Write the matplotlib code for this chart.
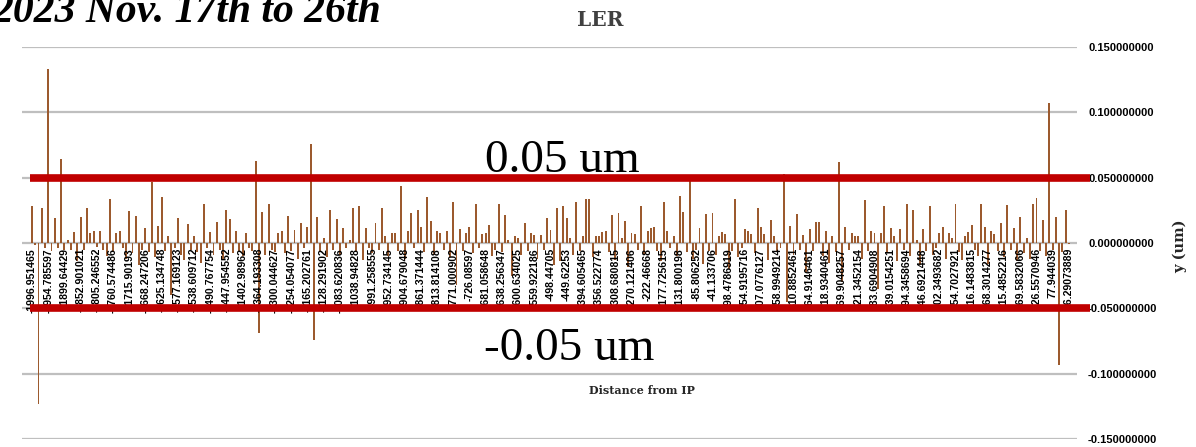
import matplotlib
matplotlib.use("Agg")
import matplotlib.pyplot as plt
import numpy as np
from matplotlib.ticker import FormatStrFormatter
import matplotlib.transforms as mtransforms

# Vertical orbit offset per BPM (um), ordered along the ring
dy_um = [
    0.0286, -0.0015, -0.123, 0.027, -0.004,
    0.133, -0.006, 0.019, -0.004, 0.064,
    -0.005, 0.002, -0.005, 0.0087, -0.014,
    0.020, -0.005, 0.0265, 0.0074, 0.009,
    -0.003, 0.009, -0.005, -0.010, 0.034,
    -0.006, 0.0074, 0.0094, -0.004, -0.012,
    0.0245, -0.008, 0.0207, -0.017, -0.005,
    0.0117, -0.007, 0.047, -0.011, 0.013,
    0.035, -0.006, 0.0056, -0.040, -0.004,
    0.0189, -0.009, -0.013, 0.0143, -0.005,
    0.0056, -0.007, -0.015, 0.0296, -0.004,
    0.0087, -0.009, 0.0163, -0.005, -0.012,
    0.025, 0.018, -0.008, 0.009, -0.007,
    -0.010, 0.0074, -0.004, -0.006, 0.063,
    -0.069, 0.024, -0.009, 0.030, -0.005,
    -0.007, 0.008, 0.009, -0.008, 0.021,
    -0.006, 0.010, -0.012, 0.015, -0.004,
    0.012, 0.076, -0.074, 0.020, -0.007,
    0.0036, -0.011, 0.025, -0.005, 0.018,
    -0.009, 0.0117, -0.004, 0.002, 0.027,
    -0.006, 0.028, -0.013, 0.0117, -0.004,
    -0.008, 0.015, -0.005, 0.027, 0.005,
    -0.010, 0.008, 0.008, -0.006, 0.044,
    -0.012, 0.009, 0.0227, -0.004, 0.025,
    0.012, -0.007, 0.035, 0.0168, -0.009,
    0.009, 0.008, -0.005, 0.0094, -0.011,
    0.0316, -0.032, 0.0107, -0.006, 0.0074,
    0.0125, -0.008, 0.0296, -0.004, 0.0066,
    0.0074, 0.014, -0.010, -0.005, 0.030,
    -0.007, 0.0214, 0.002, -0.025, 0.0056,
    0.004, -0.009, 0.015, -0.006, 0.0074,
    0.006, -0.012, 0.006, -0.005, 0.019,
    0.010, -0.017, 0.0265, -0.014, 0.028,
    0.019, 0.0036, -0.009, 0.0316, -0.006,
    0.005, 0.0334, 0.0334, -0.011, 0.005,
    0.005, 0.0087, 0.009, -0.007, 0.0214,
    -0.013, 0.0227, 0.004, 0.0168, -0.018,
    0.0074, 0.0066, -0.005, 0.0286, -0.009,
    0.009, 0.0117, 0.0125, -0.006, -0.014,
    0.0316, 0.009, -0.004, 0.005, -0.010,
    0.036, 0.024, -0.007, 0.049, -0.012,
    -0.005, 0.0117, -0.016, 0.022, -0.006,
    0.0227, -0.009, 0.005, 0.0087, 0.0066,
    -0.020, -0.006, 0.0334, -0.011, -0.004,
    0.0107, 0.009, 0.0066, -0.008, 0.027,
    0.0125, 0.0066, -0.013, 0.0176, 0.0056,
    -0.007, -0.004, 0.053, -0.045, 0.013,
    -0.009, 0.022, -0.005, 0.006, -0.022,
    0.011, -0.006, 0.0163, 0.0163, -0.010,
    0.009, -0.015, 0.005, -0.007, 0.062,
    -0.030, 0.0125, -0.005, 0.008, 0.005,
    0.005, -0.012, 0.033, -0.006, 0.0094,
    0.008, -0.035, 0.008, 0.0286, -0.008,
    0.0117, 0.0056, -0.014, 0.011, -0.005,
    0.0296, -0.010, 0.025, 0.002, -0.017,
    0.011, -0.006, 0.028, -0.009, -0.004,
    0.0074, 0.0125, -0.012, 0.0074, 0.0036,
    0.0296, -0.007, -0.013, 0.005, 0.0087,
    0.0138, -0.005, -0.010, 0.0296, 0.0125,
    -0.016, 0.009, 0.0066, -0.006, 0.015,
    -0.011, 0.029, -0.005, 0.0117, -0.014,
    0.020, -0.008, 0.0036, -0.012, 0.0296,
    0.0347, -0.006, 0.0176, -0.010, 0.107,
    -0.005, 0.020, -0.093, -0.007, 0.025,
    -0.001,
]

# Distance from IP (m), shown for every fifth BPM
distance_labels = [
    "-1996.951465", "-1954.785597", "-1899.64429", "-1852.901021", "-1805.246552",
    "-1760.574486", "-1715.90193", "-1668.247206", "-1625.134748", "-1577.169123",
    "-1538.609712", "-1490.767754", "-1447.954552", "-1402.98962", "-1364.193308",
    "-1300.044627", "-1254.054077", "-1165.202761", "-1128.291902", "-1083.620836",
    "-1038.94828", "-991.258555", "-952.734145", "-904.679048", "-861.371444",
    "-813.814108", "-771.000902", "-726.08597", "-681.058648", "-638.256347",
    "-600.634025", "-559.922186", "-498.44705", "-449.62253", "-394.605465",
    "-356.522774", "-308.680815", "-270.121406", "-222.46668", "-177.725615",
    "-131.800198", "-85.806252", "-41.133706", "998.4786919", "954.9195716",
    "907.0776127", "858.9949214", "810.8852461", "764.9146461", "718.9340461",
    "669.9048257", "621.3452154", "583.6904908", "539.0154251", "494.3458694",
    "446.6921448", "402.3493682", "354.7027921", "316.1483815", "268.3014277",
    "215.4852216", "169.5832066", "126.5570946", "77.944039", "26.29073889",
]

y_limit = 0.05
label_step = 5

W, H = 1196, 447
fig = plt.figure(figsize=(W / 100, H / 100), dpi=100)
ax = fig.add_axes([22 / W, 8 / H, 1055 / W, 392 / H])

x = np.arange(len(dy_um))
ax.bar(x, dy_um, width=0.6, color="#9C5A2E", zorder=3)

ax.set_xlim(-3.1, 322.5)
ax.set_ylim(-0.15, 0.15)
ax.set_yticks(np.linspace(-0.15, 0.15, 7))
ax.yaxis.tick_right()
ax.yaxis.set_major_formatter(FormatStrFormatter("%.9f"))
ax.tick_params(axis="y", length=0, pad=8, labelsize=8)
for lab in ax.get_yticklabels():
    lab.set_fontweight("bold")
    lab.set_family("Liberation Sans")
ax.set_xticks([])
ax.grid(axis="y", color="#BFBFBF", lw=1.6, zorder=0)
for s in ax.spines.values():
    s.set_visible(False)

# category labels hang just below the zero line
offset = mtransforms.offset_copy(ax.transData, fig=fig, x=0, y=-5, units="dots")
for i, lab in zip(x[::label_step], distance_labels):
    ax.text(i, 0, lab, rotation=90, ha="center", va="top", fontsize=7.6,
            fontweight="bold", family="Liberation Sans", color="black",
            transform=offset, zorder=4)

# tolerance band
band = ax.get_yaxis_transform()
for lvl in (y_limit, -y_limit):
    ax.plot([0.0076, 1.0123], [lvl, lvl], transform=band, color="#C00000",
            lw=5.5, solid_capstyle="butt", clip_on=False, zorder=6)

fig.text(562 / W, 1 - 172 / H, f"{y_limit:.2f} um", ha="center", va="baseline",
         fontsize=34, family="Liberation Serif")
fig.text(569 / W, 1 - 360 / H, f"{-y_limit:.2f} um", ha="center", va="baseline",
         fontsize=34, family="Liberation Serif")

fig.text(-7 / W, 1 - 22 / H, "2023 Nov. 17th to 26th", ha="left", va="baseline",
         fontsize=30, fontweight="bold", fontstyle="italic", family="Liberation Serif")
fig.text(600 / W, 1 - 20 / H, "LER", ha="center", va="center", fontsize=14.5,
         fontweight="bold", family="DejaVu Serif", color="#404040")
fig.text(642 / W, 1 - 390 / H, "Distance from IP", ha="center", va="center",
         fontsize=8, fontweight="bold", family="DejaVu Serif", color="#262626")
fig.text(1180 / W, 1 - 246 / H, "y (um)", ha="center", va="center", rotation=90,
         fontsize=10.5, fontweight="bold", family="DejaVu Serif", color="#262626")

fig.savefig("out.png", dpi=100)
